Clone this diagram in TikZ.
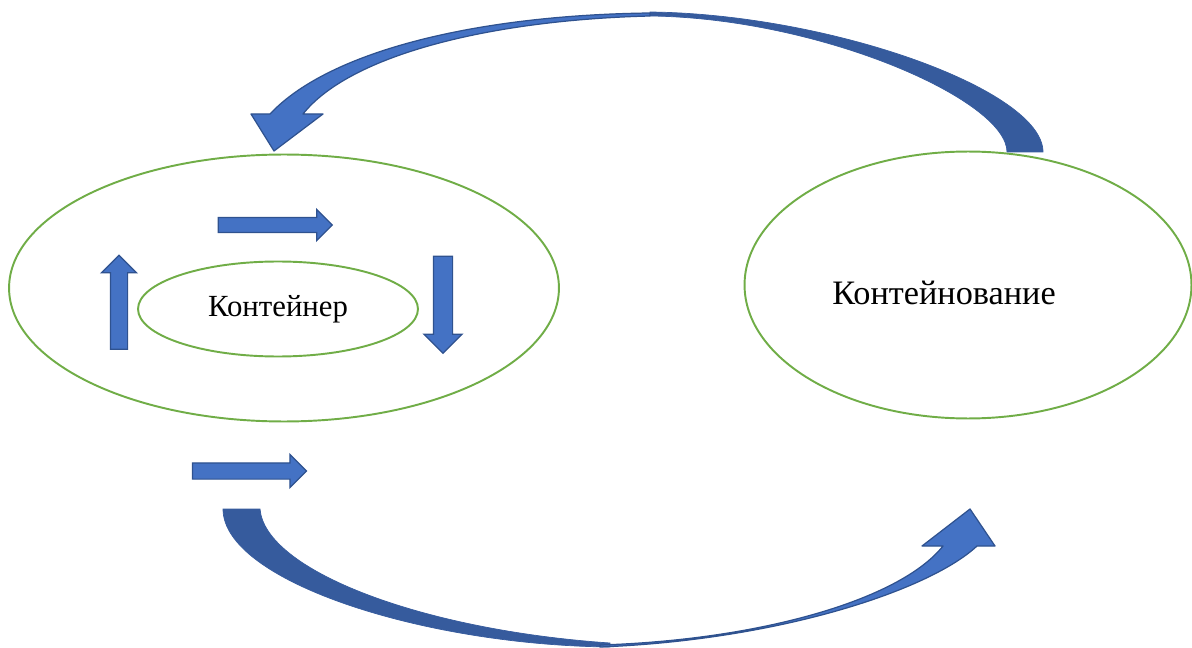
\documentclass[tikz,border=0pt]{standalone}
\usepackage{fontspec}
\setmainfont{Liberation Serif}
\usepackage{xcolor}
\usetikzlibrary{shapes,arrows}

\definecolor{arrowblue}{HTML}{4472C4}
\definecolor{arrowdark}{HTML}{365B9D}
\definecolor{arrowline}{HTML}{2F528F}
\definecolor{ringgreen}{HTML}{70AD47}

\begin{document}
\begin{tikzpicture}[
    x=0.02cm, y=-0.02cm,
    ring/.style={ellipse, draw=ringgreen, line width=1.1pt, inner sep=0pt},
    blockarrow/.style={single arrow, draw=arrowline, fill=arrowblue, line width=0.7pt, inner sep=0pt, single arrow head indent=0pt},
    ribbonfront/.style={fill=arrowblue, draw=arrowline, line width=0.7pt, line join=round},
    ribbonback/.style={fill=arrowdark, draw=arrowdark, line width=0.4pt}
]
\useasboundingbox (0,0) rectangle (1192,648);

% Container system
\node [ring, minimum width=11cm, minimum height=5.34cm] (system) at (284,288) {};
\node [ring, minimum width=5.6cm, minimum height=1.9cm, font=\fontsize{17.5}{20}\selectfont] (container) at (278,309) {Контейнер};

% Containerized
\node [ring, minimum width=8.94cm, minimum height=5.34cm] (containerized) at (968,285) {};
\node [font=\fontsize{19.5}{23}\selectfont] (containerized_text) at ([xshift=-0.48cm, yshift=-0.16cm]containerized.center) {Контейнование};

% Flow inside the system
\node [blockarrow, minimum height=2.28cm, single arrow head extend=0.16cm] (flow_top) at (271.5,225) {\rule{0pt}{0.28cm}};
\node [blockarrow, rotate=-90, minimum height=1.94cm, single arrow head extend=0.19cm] (flow_down) at (443,300) {\rule{0pt}{0.36cm}};
\node [blockarrow, rotate=90, minimum height=1.88cm, single arrow head extend=0.18cm] (flow_up) at (119,306.5) {\rule{0pt}{0.32cm}};

% Output
\node [blockarrow, minimum height=2.28cm, single arrow head extend=0.17cm] (flow_out) at (245.5,471) {\rule{0pt}{0.3cm}};

% Return arrow (top)
\path [ribbonback] (650,12) .. controls (830,14) and (1043,90) .. (1043,152) -- (1007,152) .. controls (1007,100) and (820,18) .. (650,16) -- cycle;
\path [ribbonfront] (650,13) .. controls (480,15) and (330,50) .. (270,114) -- (251,114) -- (274,151) -- (323,114) -- (303,114) .. controls (350,55) and (490,20) .. (650,16) -- cycle;

% Forward arrow (bottom)
\path [ribbonback] (223,509) .. controls (223,580) and (420,645) .. (610,647) -- (610,643) .. controls (420,630) and (265,570) .. (260,509) -- cycle;
\path [ribbonfront] (600,647) .. controls (780,640) and (930,590) .. (977,546) -- (995,546) -- (970,509) -- (922,546) -- (943,546) .. controls (900,600) and (760,640) .. (600,645) -- cycle;

\end{tikzpicture}
\end{document}
